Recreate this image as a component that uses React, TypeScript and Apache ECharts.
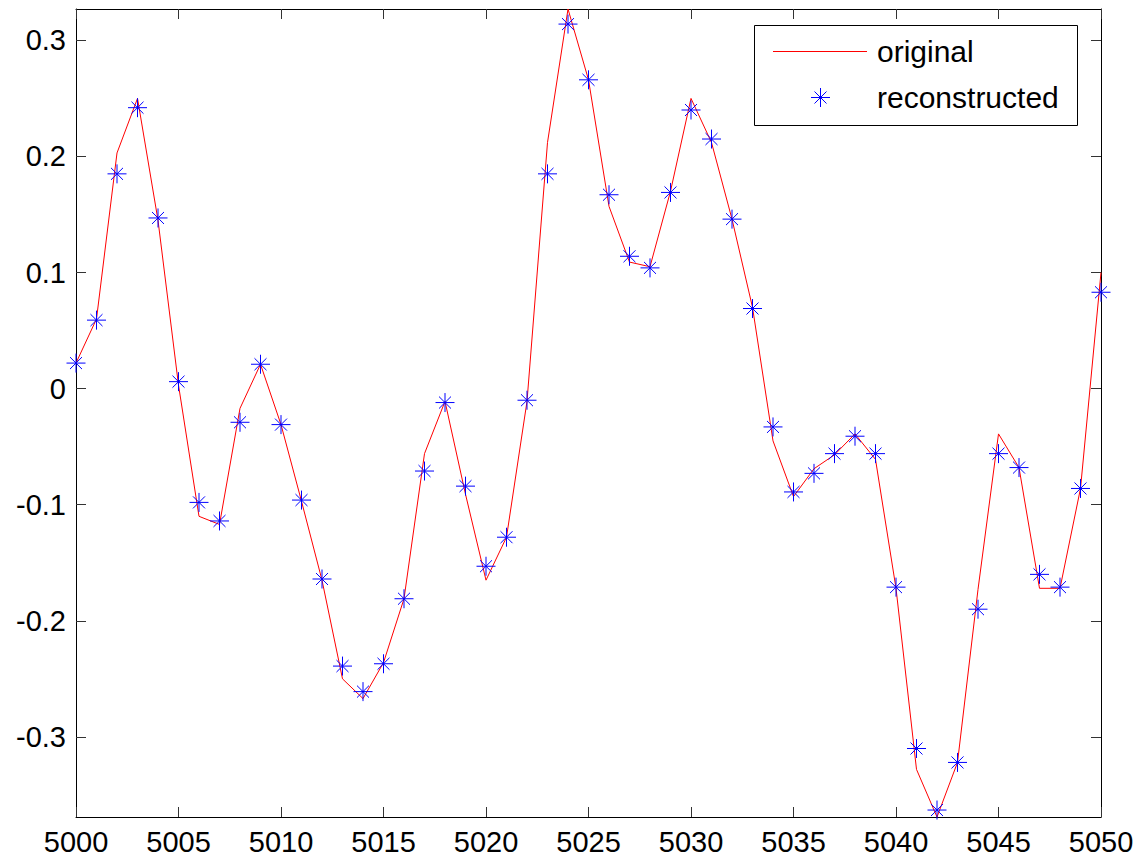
import React, { useEffect, useRef } from 'react';
import * as echarts from 'echarts';

// ---- data ----
const START_SAMPLE = 5000;

const original = [
  0.022, 0.060, 0.203, 0.250, 0.145, 0.003, -0.110, -0.117, -0.017, 0.021,
  -0.031, -0.097, -0.165, -0.250, -0.267, -0.236, -0.181, -0.056, -0.011, -0.091,
  -0.165, -0.128, -0.011, 0.212, 0.327, 0.266, 0.157, 0.109, 0.105, 0.170,
  0.250, 0.212, 0.146, 0.070, -0.045, -0.093, -0.069, -0.057, -0.039, -0.061,
  -0.172, -0.328, -0.369, -0.322, -0.173, -0.039, -0.068, -0.172, -0.172, -0.086,
  0.100,
];

const reconstructed = [
  0.022, 0.059, 0.185, 0.242, 0.147, 0.006, -0.098, -0.114, -0.029, 0.021,
  -0.031, -0.096, -0.164, -0.239, -0.261, -0.237, -0.181, -0.071, -0.012, -0.084,
  -0.153, -0.128, -0.010, 0.185, 0.314, 0.266, 0.167, 0.114, 0.104, 0.169,
  0.240, 0.215, 0.146, 0.069, -0.033, -0.089, -0.073, -0.056, -0.041, -0.056,
  -0.171, -0.310, -0.363, -0.322, -0.190, -0.056, -0.068, -0.160, -0.171, -0.086,
  0.083,
];

const xTickValues = [5000, 5005, 5010, 5015, 5020, 5025, 5030, 5035, 5040, 5045, 5050];
const xTickLabels = ['5000', '5005', '5010', '5015', '5020', '5025', '5030', '5035', '5040', '5045', '5050'];
const yTickValues = [-0.3, -0.2, -0.1, 0, 0.1, 0.2, 0.3];
const yTickLabels = ['-0.3', '-0.2', '-0.1', '0', '0.1', '0.2', '0.3'];
const seriesNames = ['original', 'reconstructed'];

const FONT = "'Liberation Sans', Arial, Helvetica, sans-serif";
const STAR = 'path://M0,9.5L19,9.5M9.5,0L9.5,19M3.5,3.5L15.5,15.5M15.5,3.5L3.5,15.5';

export default function App() {
  const ref = useRef<HTMLDivElement>(null);

  useEffect(() => {
    if (!ref.current) return;
    const chart = echarts.init(ref.current, undefined, { renderer: 'svg' });

    const xs = original.map((_, i) => START_SAMPLE + i);
    const origData = original.map((v, i) => [xs[i], v]);
    const recData = reconstructed.map((v, i) => [xs[i], v]);
    const yMin = Math.min(...original);
    const yMax = Math.max(...original);
    const xMin = xTickValues[0];
    const xMax = xTickValues[xTickValues.length - 1];
    const xInterval = xTickValues[1] - xTickValues[0];

    const axisLine = { show: true, onZero: false, lineStyle: { color: '#000', width: 1 } };
    const tickStyle = { color: '#333', width: 1 };

    const lookup = (vals: number[], labels: string[]) => (v: number) => {
      const idx = vals.findIndex((t) => Math.abs(t - v) < 1e-9);
      return idx >= 0 ? labels[idx] : '';
    };
    const xLabel = lookup(xTickValues, xTickLabels);
    const yLabel = lookup(yTickValues, yTickLabels);

    chart.setOption({
      animation: false,
      backgroundColor: '#fff',
      grid: { left: 76, right: 39, top: 9, bottom: 44, containLabel: false },
      xAxis: [
        {
          type: 'value',
          position: 'bottom',
          min: xMin,
          max: xMax,
          interval: xInterval,
          axisLine,
          axisTick: { show: true, inside: true, length: 10, lineStyle: tickStyle },
          axisLabel: {
            show: true,
            fontSize: 29,
            fontFamily: FONT,
            color: '#000',
            margin: 10,
            showMinLabel: true,
            showMaxLabel: true,
            formatter: xLabel,
          },
          splitLine: { show: false },
        },
        {
          type: 'value',
          position: 'top',
          min: xMin,
          max: xMax,
          interval: xInterval,
          axisLine,
          axisTick: { show: true, inside: true, length: 10, lineStyle: tickStyle },
          axisLabel: { show: false },
          splitLine: { show: false },
        },
      ],
      yAxis: [
        {
          type: 'value',
          position: 'left',
          min: yMin,
          max: yMax,
          axisLine,
          axisTick: { show: true, inside: true, length: 10, lineStyle: tickStyle, customValues: yTickValues },
          axisLabel: {
            show: true,
            fontSize: 29,
            fontFamily: FONT,
            color: '#000',
            margin: 10,
            customValues: yTickValues,
            formatter: yLabel,
          },
          splitLine: { show: false },
        },
        {
          type: 'value',
          position: 'right',
          min: yMin,
          max: yMax,
          axisLine,
          axisTick: { show: true, inside: true, length: 10, lineStyle: tickStyle, customValues: yTickValues },
          axisLabel: { show: false, customValues: yTickValues },
          splitLine: { show: false },
        },
      ],
      series: [
        {
          name: seriesNames[0],
          type: 'line',
          data: origData,
          xAxisIndex: 0,
          yAxisIndex: 0,
          showSymbol: false,
          symbol: 'none',
          lineStyle: { color: '#ff0000', width: 1 },
          itemStyle: { color: '#ff0000' },
          z: 2,
        },
        {
          name: seriesNames[1],
          type: 'scatter',
          data: recData,
          xAxisIndex: 0,
          yAxisIndex: 0,
          symbol: STAR,
          symbolSize: 19,
          itemStyle: { color: '#0000ff', borderColor: '#0000ff', borderWidth: 1, opacity: 1 },
          z: 3,
        },
      ],
      graphic: [
        {
          type: 'group',
          z: 100,
          children: [
            {
              type: 'rect',
              shape: { x: 754.5, y: 25.5, width: 323, height: 100 },
              style: { fill: '#fff', stroke: '#000', lineWidth: 1 },
            },
            {
              type: 'line',
              shape: { x1: 773, y1: 51.5, x2: 867, y2: 51.5 },
              style: { stroke: '#ff0000', lineWidth: 1 },
            },
            {
              type: 'group',
              x: 820.5,
              y: 97.5,
              children: [
                { type: 'line', shape: { x1: -9.5, y1: 0, x2: 9.5, y2: 0 }, style: { stroke: '#0000ff', lineWidth: 1 } },
                { type: 'line', shape: { x1: 0, y1: -9.5, x2: 0, y2: 9.5 }, style: { stroke: '#0000ff', lineWidth: 1 } },
                { type: 'line', shape: { x1: -6, y1: -6, x2: 6, y2: 6 }, style: { stroke: '#0000ff', lineWidth: 1 } },
                { type: 'line', shape: { x1: 6, y1: -6, x2: -6, y2: 6 }, style: { stroke: '#0000ff', lineWidth: 1 } },
              ],
            },
            {
              type: 'text',
              x: 877,
              y: 51.5,
              style: {
                text: seriesNames[0],
                font: `30px ${FONT}`,
                fill: '#000',
                textAlign: 'left',
                textVerticalAlign: 'middle',
              },
            },
            {
              type: 'text',
              x: 877,
              y: 97,
              style: {
                text: seriesNames[1],
                font: `30px ${FONT}`,
                fill: '#000',
                textAlign: 'left',
                textVerticalAlign: 'middle',
              },
            },
          ],
        },
      ],
    });

    return () => {
      chart.dispose();
    };
  }, []);

  return (
    <div
      ref={ref}
      style={{ position: 'fixed', left: 0, top: 0, width: 1140, height: 861, background: '#fff' }}
    />
  );
}
